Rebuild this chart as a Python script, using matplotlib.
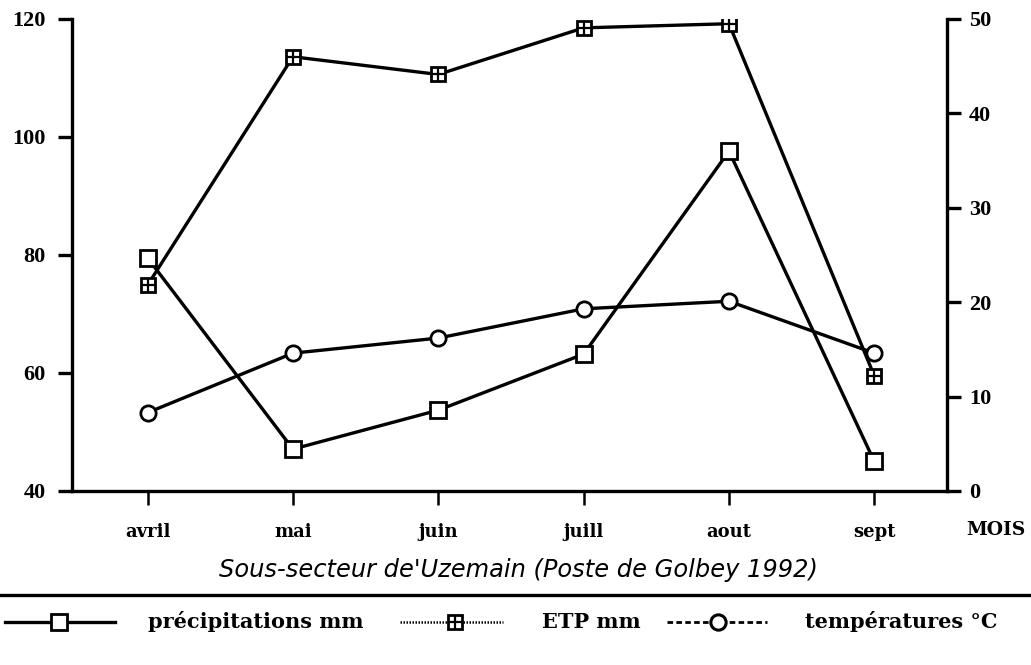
import matplotlib
matplotlib.use("Agg")
import matplotlib.pyplot as plt
from matplotlib.lines import Line2D

months = ["avril", "mai", "juin", "juill", "aout", "sept"]
precipitations = [79.5, 47.1, 53.7, 63.2, 97.6, 45.0]
etp = [74.9, 113.6, 110.6, 118.5, 119.2, 59.5]
temperatures = [8.3, 14.6, 16.2, 19.3, 20.1, 14.6]
left_ticks = [40, 60, 80, 100, 120]
right_ticks = [0, 10, 20, 30, 40, 50]
legend_labels = ["précipitations mm", "ETP mm", "températures °C"]

W, H = 1031, 665
fig = plt.figure(figsize=(W / 100, H / 100), dpi=100)
ax = fig.add_axes([72 / W, 1 - 491 / H, (947 - 72) / W, (491 - 19) / H])
ax2 = ax.twinx()

serif = "DejaVu Serif"
tickfont = "Liberation Serif"
lw = 2.4
x = list(range(len(months)))

ax.plot(x, precipitations, color="black", lw=lw, marker="s", ms=11,
        mfc="white", mec="black", mew=2.0, zorder=3)
ax.plot(x, etp, color="black", lw=lw, marker="s", ms=10,
        mfc="white", mec="black", mew=2.0, zorder=3)
ax.plot(x, etp, ls="none", marker="+", ms=10, mec="black", mew=1.6, zorder=4)
ax2.plot(x, temperatures, color="black", lw=lw, marker="o", ms=11,
         mfc="white", mec="black", mew=2.0, zorder=3)

ax.set_xlim(-0.52, 5.5)
ax.set_ylim(40, 120)
ax2.set_ylim(0, 50)
ax.set_yticks(left_ticks)
ax2.set_yticks(right_ticks)
ax.set_xticks(x)
ax.set_xticklabels(months, fontfamily=serif, fontsize=13, fontweight="bold")

for a in (ax, ax2):
    for s in a.spines.values():
        s.set_linewidth(2.4)
    a.spines["top"].set_visible(False)
ax.spines["right"].set_visible(False)
ax2.spines["left"].set_visible(False)
ax2.spines["bottom"].set_visible(False)

ax.tick_params(axis="y", direction="out", length=10, width=2.4, pad=9,
               labelsize=16)
ax.tick_params(axis="x", direction="out", length=10, width=1.8, pad=13)
ax2.tick_params(axis="y", direction="out", length=10, width=2.4, pad=6,
                labelsize=16)
for lab in ax.get_yticklabels() + ax2.get_yticklabels():
    lab.set_fontfamily(tickfont)
    lab.set_fontweight("bold")

fig.text(996 / W, 1 - 530 / H, "MOIS", fontfamily=serif, fontsize=13.5,
         fontweight="bold", ha="center", va="center")
fig.text(518 / W, 1 - 570 / H, "Sous-secteur de'Uzemain (Poste de Golbey 1992)",
         fontfamily="DejaVu Sans", fontsize=17.4, style="italic",
         ha="center", va="center")

fig.add_artist(Line2D([0, 1], [1 - 595 / H] * 2, color="black", lw=2.4,
                      transform=fig.transFigure))

# manual legend
ly = 1 - 622 / H
def fx(px):
    return px / W

fig.add_artist(Line2D([fx(5), fx(115)], [ly, ly], color="black", lw=2.4,
                      transform=fig.transFigure))
fig.add_artist(Line2D([fx(59)], [ly], ls="none", marker="s", ms=11, mfc="white",
                      mec="black", mew=2, transform=fig.transFigure))
fig.add_artist(Line2D([fx(400), fx(503)], [ly, ly], color="black", lw=1.8,
                      ls=(0, (0.6, 0.6)), transform=fig.transFigure))
fig.add_artist(Line2D([fx(455)], [ly], ls="none", marker="s", ms=10, mfc="white",
                      mec="black", mew=2, transform=fig.transFigure))
fig.add_artist(Line2D([fx(455)], [ly], ls="none", marker="+", ms=10,
                      mec="black", mew=1.6, transform=fig.transFigure))
fig.add_artist(Line2D([fx(667), fx(767)], [ly, ly], color="black", lw=2.0,
                      ls=(0, (2, 1.2)), transform=fig.transFigure))
fig.add_artist(Line2D([fx(718)], [ly], ls="none", marker="o", ms=11, mfc="white",
                      mec="black", mew=2.2, transform=fig.transFigure))

for xpos, lab in zip([148, 542, 805], legend_labels):
    fig.text(fx(xpos), ly, lab, fontfamily=serif, fontsize=15,
             fontweight="bold", ha="left", va="center")

fig.savefig("out.png", dpi=100)
